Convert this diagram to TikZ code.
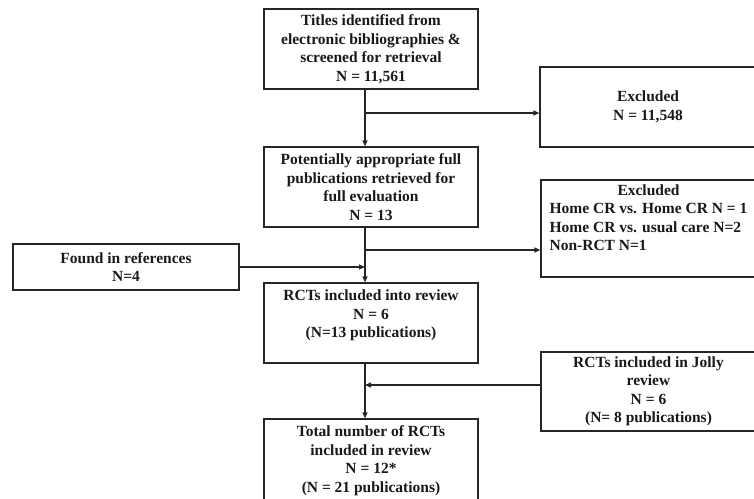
\documentclass[tikz,border=0pt]{standalone}
\usepackage{fontspec}
\setmainfont{Liberation Serif}
\usetikzlibrary{arrows.meta,calc}
\begin{document}
\begin{tikzpicture}[x=1pt,y=-1pt,
  every node/.style={font=\bfseries\fontsize{15.5}{18.5}\selectfont, text=black!90},
  stagebox/.style={draw=black!85, line width=1.2pt, fill=white, align=center, inner sep=0pt},
  link/.style={draw=black!85, line width=1.2pt},
  arr/.style={link, -{Triangle[length=6pt,width=5pt]}}]
\useasboundingbox (0,0) rectangle (754,498);
\clip (0,0) rectangle (754,498);
% boxes
\node[stagebox, minimum width=214pt, minimum height=80pt] (b1) at (371,49)
  {Titles identified from\\electronic bibliographies \&\\screened for retrieval\\N = 11,561};
\node[stagebox, minimum width=216pt, minimum height=80pt] (ex1) at (648,107)
  {Excluded\\N = 11,548};
\node[stagebox, minimum width=214pt, minimum height=80pt] (b2) at (371,187)
  {Potentially appropriate full\\publications retrieved for\\full evaluation\\N = 13};
\node[stagebox, minimum width=215pt, minimum height=97pt] (ex2) at (648.5,228.5)
  {\begin{tabular}{@{}l@{}}\multicolumn{1}{@{}c@{}}{Excluded}\\
   Home CR vs. Home CR N = 1\\ Home CR vs. usual care N=2\\ Non-RCT N=1\\ \mbox{}\end{tabular}};
\node[stagebox, minimum width=226pt, minimum height=46pt] (found) at (126,267)
  {Found in references\\N=4};
\node[stagebox, minimum width=214pt, minimum height=80pt] (b3) at (371,323)
  {RCTs included into review\\N = 6\\(N=13 publications)\\\mbox{}};
\node[stagebox, minimum width=215pt, minimum height=79pt] (jolly) at (648.5,391.5)
  {RCTs included in Jolly\\review\\N = 6\\(N= 8 publications)};
\node[stagebox, minimum width=214pt, minimum height=83pt] (b4) at (371,460.5)
  {Total number of RCTs\\included in review\\N = 12*\\(N = 21 publications)};
% trunk and junctions
\coordinate (trunk) at (365,0);
\coordinate (j1) at (365,113);
\coordinate (j2) at (365,250);
\coordinate (j4) at (365,385);
\draw[arr] (b1.south -| trunk) -- (b2.north -| trunk);
\draw[arr] (j1) -- (j1 -| ex1.west);
\draw[arr] (b2.south -| trunk) -- (b3.north -| trunk);
\draw[arr] (j2) -- (j2 -| ex2.west);
\draw[arr] (found.east) -- (found.east -| trunk);
\draw[arr] (b3.south -| trunk) -- (b4.north -| trunk);
\draw[arr] (j4 -| jolly.west) -- (j4);
\end{tikzpicture}
\end{document}
